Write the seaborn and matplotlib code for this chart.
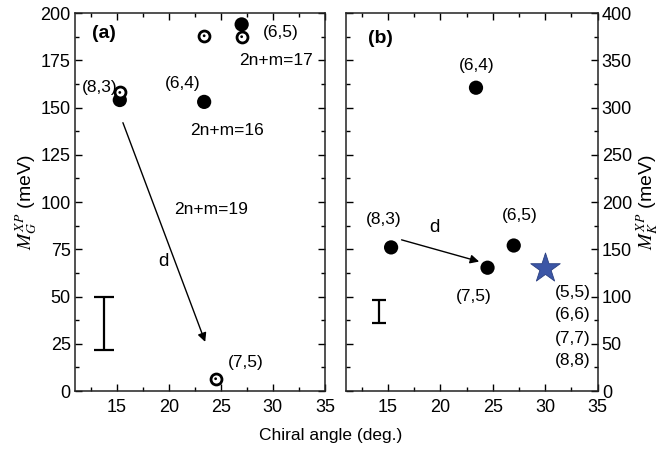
import numpy as np
import pandas as pd

import matplotlib
matplotlib.use("Agg")
import matplotlib.pyplot as plt
import seaborn as sns

# ======================================================
# DATA
# ======================================================

# panel (a): M_G^XP vs chiral angle
a_filled_x = [15.3, 23.4, 27.0]
a_filled_y = [154, 153, 194]

a_open_x = [15.3, 23.4, 27.0, 24.5]
a_open_y = [158, 188, 187.5, 6.5]

a_err_x = [13.8]
a_err_y = [35.75]
a_err_half = [14.25]

a_arrow_start = (15.6, 142)
a_arrow_end = (23.5, 26)

# panel (b): M_K^XP vs chiral angle
b_filled_x = [15.3, 23.4, 24.5, 27.0]
b_filled_y = [152, 321, 130.5, 154]

b_star_x = [30.0]
b_star_y = [130.5]

b_err_x = [14.1]
b_err_y = [84]
b_err_half = [12]

b_arrow_start = (16.3, 160)
b_arrow_end = (23.7, 137)

armchair_labels = ["(5,5)", "(6,6)", "(7,7)", "(8,8)"]
armchair_y = [104.5, 80.5, 56, 32.5]

# ======================================================
# STYLE
# ======================================================

FS = 12.5
TICK_FS = 13

sns.set_theme(style="ticks")
plt.rcParams["font.family"] = ["Liberation Sans", "DejaVu Sans"]
plt.rcParams["mathtext.fontset"] = "stix"
plt.rcParams["font.size"] = FS
plt.rcParams["text.color"] = "black"
plt.rcParams["axes.labelcolor"] = "black"
plt.rcParams["xtick.direction"] = "in"
plt.rcParams["ytick.direction"] = "in"
plt.rcParams["xtick.major.size"] = 5
plt.rcParams["ytick.major.size"] = 5
plt.rcParams["xtick.minor.size"] = 3
plt.rcParams["ytick.minor.size"] = 3
plt.rcParams["xtick.major.pad"] = 6
plt.rcParams["ytick.major.pad"] = 3
plt.rcParams["axes.linewidth"] = 1.1
plt.rcParams["xtick.color"] = "black"
plt.rcParams["ytick.color"] = "black"
plt.rcParams["xtick.labelcolor"] = "black"
plt.rcParams["ytick.labelcolor"] = "black"
plt.rcParams["axes.edgecolor"] = "#222222"

fig = plt.figure(figsize=(6.62, 4.51), dpi=100)
ax_a = fig.add_axes([0.1133, 0.133, 0.3776, 0.838])
ax_b = fig.add_axes([0.5227, 0.133, 0.3800, 0.838])


def style_axis(ax, ymax, ymajor, yminor):
    ax.set_xlim(11, 35)
    ax.set_ylim(0, ymax)
    ax.set_xticks([15, 20, 25, 30, 35])
    ax.set_xticks(np.arange(12.5, 35, 2.5), minor=True)
    ax.set_yticks(np.arange(0, ymax + 1, ymajor))
    ax.set_yticks(np.arange(0, ymax, yminor), minor=True)
    ax.tick_params(which="both", top=True, right=True, left=True,
                   bottom=True, labelsize=TICK_FS, width=1.0)
    ax.set_xlabel("")
    ax.set_ylabel("")


# ======================================================
# PANEL (a)
# ======================================================

sns.scatterplot(x=a_filled_x, y=a_filled_y, ax=ax_a, color="black",
                s=105, edgecolor="none", zorder=3)
sns.scatterplot(x=a_open_x, y=a_open_y, ax=ax_a, color="white",
                s=62, edgecolor="black", linewidth=2.0, zorder=4)
sns.scatterplot(x=a_open_x, y=a_open_y, ax=ax_a, color="black",
                s=4, edgecolor="none", zorder=5)

ax_a.errorbar(a_err_x, a_err_y, yerr=a_err_half, fmt="none",
              ecolor="black", elinewidth=1.6, capsize=7, capthick=1.6)

ax_a.annotate("", xy=a_arrow_end, xytext=a_arrow_start,
              arrowprops=dict(arrowstyle="-|>", color="black", lw=1.0,
                              mutation_scale=13, shrinkA=0, shrinkB=0))

ax_a.text(12.6, 189, "(a)", fontsize=FS + 1.5, fontweight="bold", va="center")
ax_a.text(29.0, 189.5, "(6,5)", va="center")
ax_a.text(26.8, 175, "2n+m=17", va="center")
ax_a.text(11.7, 160.5, "(8,3)", va="center")
ax_a.text(19.6, 162.5, "(6,4)", va="center")
ax_a.text(22.1, 138, "2n+m=16", va="center")
ax_a.text(20.5, 96, "2n+m=19", va="center")
ax_a.text(19.0, 68.5, "d", fontsize=FS + 1, va="center")
ax_a.text(25.7, 15, "(7,5)", va="center")

style_axis(ax_a, 200, 25, 12.5)
ax_a.set_ylabel(r"$M_G^{XP}$ (meV)", fontsize=14, labelpad=1)

# ======================================================
# PANEL (b)
# ======================================================

sns.scatterplot(x=b_filled_x, y=b_filled_y, ax=ax_b, color="black",
                s=105, edgecolor="none", zorder=3)
sns.scatterplot(x=b_star_x, y=b_star_y, ax=ax_b, color="#3c56a6",
                marker="*", s=500, edgecolor="#2a3f80", linewidth=0.6,
                zorder=4)

ax_b.errorbar(b_err_x, b_err_y, yerr=b_err_half, fmt="none",
              ecolor="black", elinewidth=1.6, capsize=5, capthick=1.6)

ax_b.annotate("", xy=b_arrow_end, xytext=b_arrow_start,
              arrowprops=dict(arrowstyle="-|>", color="black", lw=1.0,
                              mutation_scale=13, shrinkA=0, shrinkB=0))

ax_b.text(13.1, 373, "(b)", fontsize=FS + 1.5, fontweight="bold", va="center")
ax_b.text(23.5, 345, "(6,4)", ha="center", va="center")
ax_b.text(12.9, 182, "(8,3)", va="center")
ax_b.text(25.9, 186, "(6,5)", va="center")
ax_b.text(18.9, 173, "d", fontsize=FS + 1, va="center")
ax_b.text(23.2, 100.5, "(7,5)", ha="center", va="center")
for label, yv in zip(armchair_labels, armchair_y):
    ax_b.text(34.3, yv, label, ha="right", va="center")

style_axis(ax_b, 400, 50, 25)
ax_b.yaxis.tick_right()
ax_b.tick_params(which="both", left=True, right=True)
ax_b.yaxis.set_label_position("right")
ax_b.set_ylabel(r"$M_K^{XP}$ (meV)", fontsize=14, labelpad=2)

fig.text(0.5, 0.035, "Chiral angle (deg.)", ha="center", va="center",
         fontsize=FS)

fig.savefig("out.png", dpi=100)
